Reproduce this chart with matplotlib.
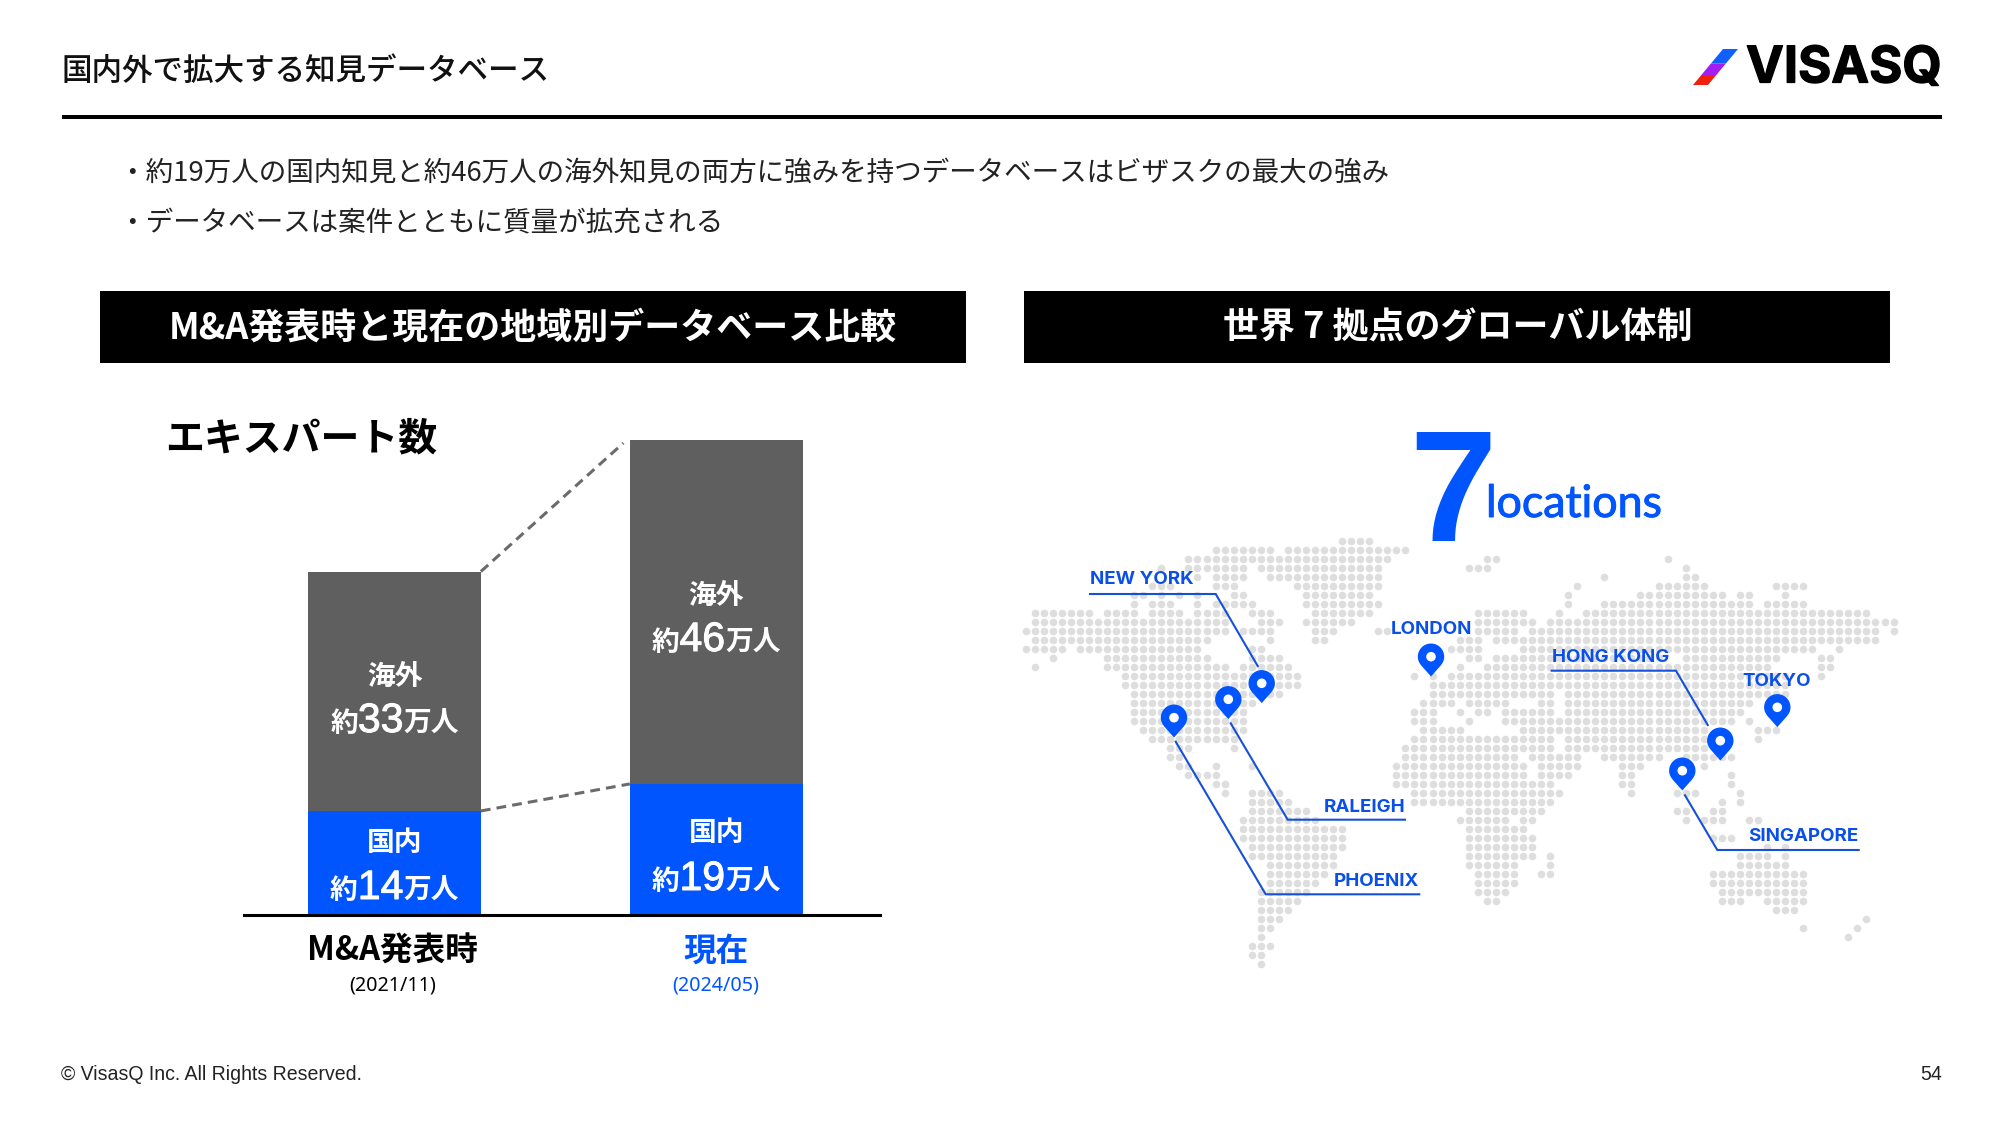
import matplotlib
matplotlib.use("Agg")
import matplotlib.pyplot as plt
import matplotlib.patheffects as pe
from matplotlib.path import Path
from matplotlib.patches import PathPatch, Rectangle, Polygon, Circle
from matplotlib.transforms import ScaledTranslation

JP = ['Noto Sans CJK JP', 'DejaVu Sans']
plt.rcParams['font.family'] = JP

BLUE = '#0055FF'
GREY = '#5F5F5F'
DOT = '#DEDEDE'

# ---- chart data ----
periods = ['M&A発表時', '現在']
period_dates = ['(2021/11)', '(2024/05)']
domestic_height = [14.2, 17.9]   # bar heights as drawn in the picture
overseas_height = [32.8, 47.1]
domestic_label = ['14', '19']
overseas_label = ['33', '46']

# ---- world map: rows of (first column, last column) runs of dots ----
map_rows = [
 [(35,38)],
 [(21,27),(29,42)],
 [(18,40),(51,52),(71,71)],
 [(15,15),(18,24),(26,39),(49,51),(73,73)],
 [(19,19),(21,24),(27,39),(64,64),(73,74)],
 [(14,16),(21,23),(30,39),(61,61),(70,75),(83,86)],
 [(12,13),(15,15),(17,17),(19,19),(23,24),(31,38),(60,60),(68,77),(79,80),(84,84)],
 [(12,12),(14,16),(19,19),(21,25),(31,39),(60,60),(64,80),(82,86)],
 [(1,7),(9,12),(14,17),(19,22),(25,27),(32,38),(50,55),(59,59),(62,93)],
 [(1,22),(26,28),(31,36),(50,56),(58,96)],
 [(0,22),(24,27),(32,34),(39,40),(50,54),(56,94),(96,96)],
 [(1,20),(27,27),(32,33),(48,50),(52,94)],
 [(0,4),(6,19),(25,26),(47,50),(55,87),(90,90)],
 [(3,3),(9,20),(25,28),(49,50),(52,70),(73,83),(88,89)],
 [(1,1),(9,22),(24,29),(48,48),(51,82),(88,89)],
 [(11,30),(43,43),(45,45),(47,84),(88,88)],
 [(11,30),(45,84)],
 [(12,28),(45,58),(60,84)],
 [(12,25),(44,47),(49,53),(57,58),(60,80)],
 [(12,24),(43,45),(48,48),(50,51),(53,58),(60,79)],
 [(12,24),(43,45),(49,49),(53,78),(80,80)],
 [(13,24),(44,48),(55,75),(81,83)],
 [(14,23),(43,58),(60,75),(81,81)],
 [(16,18),(23,23),(42,58),(60,75)],
 [(16,17),(42,54),(56,61),(64,70),(73,78)],
 [(17,18),(21,21),(25,25),(41,55),(57,61),(66,68),(75,75)],
 [(18,21),(41,55),(57,60),(66,67),(78,78)],
 [(21,22),(41,58),(66,67),(78,78)],
 [(22,22),(25,28),(43,59),(67,67),(72,74),(79,79)],
 [(25,29),(43,58),(77,77),(79,79)],
 [(25,31),(49,57),(72,73),(76,77)],
 [(24,32),(48,53),(55,56),(73,73),(75,77),(80,81)],
 [(24,35),(49,55)],
 [(24,35),(49,56),(76,78)],
 [(25,35),(49,56),(82,82),(84,84)],
 [(25,34),(49,56),(58,58),(79,82),(84,84)],
 [(27,34),(49,54),(58,58),(79,84)],
 [(27,33),(50,54),(57,58),(76,86)],
 [(27,32),(50,54),(76,86)],
 [(26,31),(50,53),(77,86)],
 [(26,30),(51,52),(77,79),(82,86)],
 [(26,29),(83,85)],
 [(26,28),(93,93)],
 [(26,27),(86,86),(92,92)],
 [(26,26),(91,91)],
 [(25,27)],
 [(25,26)],
 [(26,26)],
]

pin_names = ['NEW YORK', 'RALEIGH', 'PHOENIX', 'LONDON', 'HONG KONG', 'SINGAPORE', 'TOKYO']
pin_x = [1261.7, 1228.3, 1174.0, 1431.0, 1720.3, 1682.3, 1777.3]
pin_y = [683.3, 699.3, 717.7, 656.7, 740.7, 770.7, 707.3]

fig = plt.figure(figsize=(20, 11.25), dpi=100, facecolor='white')

def px_axes(x0, y0, x1, y1):
    return fig.add_axes([x0/2000, 1-y1/1125, (x1-x0)/2000, (y1-y0)/1125])

# ---- stacked bars ----
unit_px = 7.3
bar_cx = [394.5, 716.2]
px_per_x = bar_cx[1] - bar_cx[0]
ax = px_axes(243.6, 300, 880, 914.6)
ax.set_xlim((243.6-bar_cx[0])/px_per_x, (880-bar_cx[0])/px_per_x)
ax.set_ylim(0, (914.6-300)/unit_px)
width = 0.537
xs = [0, 1]
ax.bar(xs, domestic_height, width=width, color=BLUE, linewidth=0)
ax.bar(xs, overseas_height, width=width, bottom=domestic_height, color=GREY, linewidth=0)
totals = [d+o for d, o in zip(domestic_height, overseas_height)]
ax.plot([width/2, 1-width/2-0.02], [totals[0], totals[1]-0.4], color='#6b6b6b', lw=2.2, ls=(0, (3.2, 2)))
ax.plot([width/2, 1-width/2], [domestic_height[0], domestic_height[1]], color='#6b6b6b', lw=2.2, ls=(0, (3.2, 2)))
for s in ['top', 'left', 'right']:
    ax.spines[s].set_visible(False)
ax.spines['bottom'].set_linewidth(2.2)
ax.spines['bottom'].set_color('black')
ax.set_yticks([])
ax.set_xticks(xs, periods, fontsize=23.5, fontweight='bold')
ax.tick_params(axis='x', length=0, pad=14.5)
ax.get_xticklabels()[1].set_color(BLUE)
lab0 = ax.get_xticklabels()[0]
lab0.set_transform(lab0.get_transform() + ScaledTranslation(-0.025, 0, fig.dpi_scale_trans))
ax.patch.set_alpha(0)

# ---- overlay in pixel coordinates ----
o = fig.add_axes([0, 0, 1, 1])
o.set_xlim(0, 2000)
o.set_ylim(1125, 0)
o.axis('off')
o.patch.set_alpha(0)

def T(x, y, s, size, color='black', weight='normal', ha='left', family=None, va='center', **kw):
    return o.text(x, y, s, fontsize=size, color=color, fontweight=weight, ha=ha, va=va,
                  family=family or JP, **kw)

# header
T(61, 71.5, '国内外で拡大する知見データベース', 22, '#111111', 'medium')
o.add_patch(Rectangle((62, 115), 1880, 4, color='black', lw=0))

# logo: one slanted stripe in three colours
def stripe(y0, y1, colour):
    def xl(y): return 1693 + (85-y)/(85-49)*(1723-1693)
    w = 15
    o.add_patch(Polygon([(xl(y0), y0), (xl(y0)+w, y0), (xl(y1)+w, y1), (xl(y1), y1)], color=colour, lw=0))
stripe(85, 75, '#F0200F')
stripe(75, 63.5, '#A31CF0')
stripe(63.5, 49, '#1060FF')
T(1746, 69, 'VISASQ', 36.5, 'black', 'bold', family=['Inter', 'Liberation Sans'],
  path_effects=[pe.withStroke(linewidth=0.9, foreground='black')])

# bullets
T(118.5, 173.5, '・約19万人の国内知見と約46万人の海外知見の両方に強みを持つデータベースはビザスクの最大の強み', 19.85, '#222222')
T(118.5, 223.5, '・データベースは案件とともに質量が拡充される', 19.85, '#222222')

# section bars
o.add_patch(Rectangle((99.5, 291), 866, 72, color='black', lw=0))
o.add_patch(Rectangle((1024.3, 291), 866, 72, color='black', lw=0))
T(532.5, 328, 'M&A発表時と現在の地域別データベース比較', 25.9, 'white', 'bold', ha='center')
T(1457.3, 328, '世界 7 拠点のグローバル体制', 25.9, 'white', 'bold', ha='center')

T(165.5, 439, 'エキスパート数', 28, 'black', 'bold')

# footer
T(61, 1075, '© VisasQ Inc. All Rights Reserved.', 14.05, '#222222', family=['Liberation Sans'])
T(1942, 1075, '54', 14.05, '#222222', ha='right', family=['Liberation Sans'])

# multi-size labels inside the bars
def runs(cx, cy, parts, color='white'):
    r = fig.canvas.get_renderer()
    items = []
    for s, z, w, f, st in parts:
        it = o.text(0, cy, s, fontsize=z, color=color, fontweight=w, family=f, va='baseline')
        if st:
            it.set_path_effects([pe.withStroke(linewidth=st, foreground=color)])
        items.append(it)
    ws = [i.get_window_extent(r).width for i in items]
    x = cx - sum(ws)/2
    for it, w in zip(items, ws):
        it.set_position((x, cy))
        x += w

NUM = ['Liberation Sans', 'DejaVu Sans']
over_y = [(676.5, 732), (596, 651)]
dom_y = [(843, 899), (833, 890)]
for i in range(2):
    T(bar_cx[i], over_y[i][0], '海外', 20, 'white', 'bold', ha='center')
    runs(bar_cx[i], over_y[i][1], [('約', 20, 'bold', JP, 0), (overseas_label[i], 29.5, 'normal', NUM, 0.7), ('万人', 20, 'bold', JP, 0)])
    T(bar_cx[i], dom_y[i][0], '国内', 20, 'white', 'bold', ha='center')
    runs(bar_cx[i], dom_y[i][1], [('約', 20, 'bold', JP, 0), (domestic_label[i], 29.5, 'normal', NUM, 0.7), ('万人', 20, 'bold', JP, 0)])
    T(bar_cx[i]-2 if i == 0 else bar_cx[i], 986, period_dates[i], 14.2, 'black' if i == 0 else BLUE, ha='center', family=['Noto Sans'])

# big number
T(1409, 541, '7', 113, BLUE, 'bold', family=['Liberation Sans', 'Roboto'], va='baseline')
T(1486, 517, 'locations', 32.2, BLUE, 'normal', family=['Lato', 'Noto Sans'], va='baseline',
  path_effects=[pe.withStroke(linewidth=0.7, foreground=BLUE)])

# dot map
dx, dy = [], []
for r, row in enumerate(map_rows):
    for a, b in row:
        for c in range(a, b+1):
            dx.append(1025.7 + 9.04*c)
            dy.append(541.3 + 9.0*r)
o.scatter(dx, dy, s=30, color=DOT, linewidths=0, zorder=2)

# leader lines
LINE = '#1550D8'
leaders = [
    [(1090, 594), (1215.7, 594), (1257.7, 666)],
    [(1230.7, 723.3), (1287.7, 819.7), (1405, 819.7)],
    [(1175.7, 741.7), (1265.7, 894.3), (1419.3, 894.3)],
    [(1551.7, 670.7), (1676, 670.7), (1707.7, 725)],
    [(1685, 795.3), (1717.3, 850), (1858.7, 850)],
]
for l in leaders:
    o.plot([p[0] for p in l], [p[1] for p in l], color=LINE, lw=1.5, zorder=3, solid_joinstyle='miter')

# city names
INT = ['Inter', 'DejaVu Sans']
city_pos = {'NEW YORK': (1089.5, 580, 'left'), 'RALEIGH': (1405, 807, 'right'), 'PHOENIX': (1419.5, 881, 'right'),
            'LONDON': (1431, 630, 'center'), 'HONG KONG': (1552, 657.5, 'left'), 'TOKYO': (1777, 681.5, 'center'),
            'SINGAPORE': (1858.5, 836.5, 'right')}
for name, (x, y, ha) in city_pos.items():
    T(x, y, name, 13.5, '#0A50E8', 'bold', ha=ha, family=INT, zorder=5)

# pins
def pin(x, y):
    R = 13.2
    k = 0.5523 * R
    verts = [(x-R*0.62, y+R*0.8), (x-R*0.9, y+k*0.9), (x-R, y+k*0.5), (x-R, y),
             (x-R, y-k), (x-k, y-R), (x, y-R),
             (x+k, y-R), (x+R, y-k), (x+R, y),
             (x+R, y+k*0.5), (x+R*0.9, y+k*0.9), (x+R*0.62, y+R*0.8),
             (x, y+R*1.5), (x-R*0.62, y+R*0.8)]
    codes = [Path.MOVETO] + [Path.CURVE4]*12 + [Path.LINETO, Path.CLOSEPOLY]
    o.add_patch(PathPatch(Path(verts, codes), facecolor=BLUE, edgecolor='none', zorder=6))
    o.add_patch(Circle((x, y), 4.8, facecolor='white', edgecolor='none', zorder=7))

for x, y in zip(pin_x, pin_y):
    pin(x, y)

fig.savefig('out.png', dpi=100, facecolor='white')
